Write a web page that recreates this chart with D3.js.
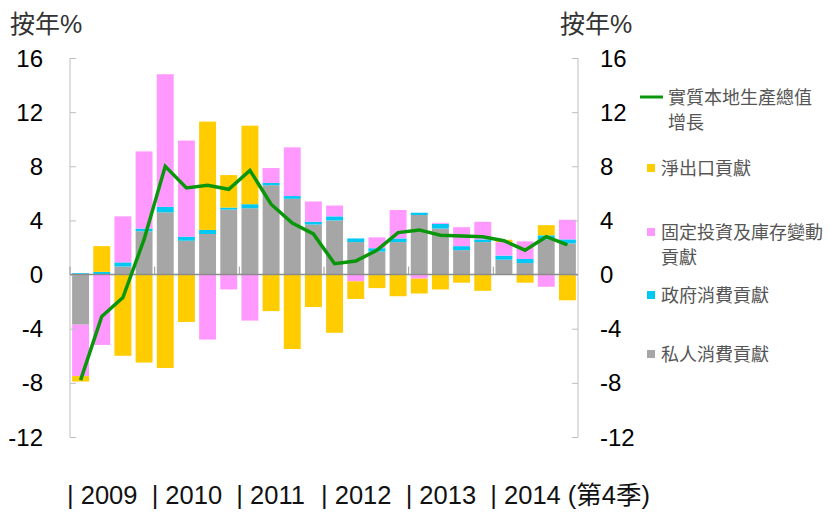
<!DOCTYPE html>
<html>
<head lang="zh-Hant">
    <meta charset="UTF-8">
    <title>GDP contributions</title>
    <script src="https://d3js.org/d3.v7.min.js" charset="utf-8"></script>
    <style>
        body { margin: 0; background: #fff; }
        svg text { font-family: "Liberation Sans", Arial, "Noto Sans CJK TC", sans-serif; }
        .cjk { font-family: "Noto Sans CJK TC", sans-serif; }
    </style>
</head>
<body>
<div id="chart"></div>
<script>
    // quarters 2009 Q1 .. 2014 Q4
    var quarters = ["2009Q1","2009Q2","2009Q3","2009Q4","2010Q1","2010Q2","2010Q3","2010Q4",
                    "2011Q1","2011Q2","2011Q3","2011Q4","2012Q1","2012Q2","2012Q3","2012Q4",
                    "2013Q1","2013Q2","2013Q3","2013Q4","2014Q1","2014Q2","2014Q3","2014Q4"];
    var privateCons = [-3.7, 0.0, 0.6, 3.2, 4.6, 2.5, 3.0, 4.8, 4.9, 6.6, 5.6, 3.7, 4.0, 2.4, 1.7, 2.4, 4.4, 3.4, 1.8, 2.4, 1.1, 0.85, 2.6, 2.3];
    var govCons     = [0.1, 0.2, 0.3, 0.2, 0.4, 0.3, 0.3, 0.15, 0.3, 0.17, 0.2, 0.2, 0.3, 0.27, 0.25, 0.27, 0.17, 0.35, 0.3, 0.2, 0.3, 0.3, 0.3, 0.3];
    var investment  = [-3.8, -5.2, 3.4, 5.7, 9.8, 7.1, -4.8, -1.1, -3.4, 1.1, 3.6, 1.5, 0.8, -0.5, 0.8, 2.1, -0.3, 0.07, 1.4, 1.3, 1.0, 1.3, -0.9, 1.45];
    var netExports  = [-0.4, 1.9, -6.0, -6.5, -6.9, -3.5, 8.0, 2.4, 5.8, -2.7, -5.5, -2.4, -4.3, -1.3, -1.0, -1.6, -1.1, -1.1, -0.6, -1.2, 0.17, -0.6, 0.75, -1.9];
    var gdpGrowth   = [-7.8, -3.1, -1.7, 2.6, 8.0, 6.4, 6.6, 6.3, 7.7, 5.2, 3.8, 3.0, 0.8, 1.0, 1.8, 3.1, 3.3, 2.9, 2.85, 2.8, 2.5, 1.8, 2.8, 2.2];
    var yTicks = [-12, -8, -4, 0, 4, 8, 12, 16];
    var yearLabels = ["| 2009", "| 2010", "| 2011", "| 2012", "| 2013", "| 2014 (第4季)"];

    var seriesKeys = ["private", "gov", "invest", "net"];
    var seriesColors = { "private": "#a6a6a6", "gov": "#00c8f5", "invest": "#ff99ff", "net": "#ffcc00" };
    var legendItems = [
        { key: "gdp", lines: ["實質本地生產總值", "增長"], y: 97 },
        { key: "net", lines: ["淨出口貢獻"], y: 168 },
        { key: "invest", lines: ["固定投資及庫存變動", "貢獻"], y: 232 },
        { key: "gov", lines: ["政府消費貢獻"], y: 295 },
        { key: "private", lines: ["私人消費貢獻"], y: 354 }
    ];

    var W = 829, H = 517;
    var plotL = 70, plotR = 578, plotT = 58, plotB = 437;

    var rows = quarters.map(function(q, i) {
        return { q: q, "private": privateCons[i], gov: govCons[i], invest: investment[i], net: netExports[i] };
    });

    var x = d3.scaleBand().domain(quarters).range([plotL, plotR]).paddingInner(0.2).paddingOuter(0.1);
    var y = d3.scaleLinear().domain([-12, 16]).range([plotB, plotT]);
    var edge = function(i) { return x(quarters[i]) - (x.step() - x.bandwidth()) / 2; };

    var svg = d3.select("#chart").append("svg").attr("width", W).attr("height", H);

    var stacked = d3.stack().keys(seriesKeys).offset(d3.stackOffsetDiverging)(rows);

    svg.append("g").selectAll("g").data(stacked).enter().append("g")
            .attr("fill", function(s) { return seriesColors[s.key]; })
            .selectAll("rect").data(function(s) { return s; }).enter().append("rect")
            .attr("x", function(d) { return x(d.data.q); })
            .attr("width", x.bandwidth())
            .attr("y", function(d) { return y(Math.max(d[0], d[1])); })
            .attr("height", function(d) { return Math.abs(y(d[0]) - y(d[1])); });

    // axes (left and right), ticks point inward
    var axL = d3.axisLeft(y).tickValues(yTicks).tickSize(-6).tickFormat("");
    var axR = d3.axisRight(y).tickValues(yTicks).tickSize(-6).tickFormat("");
    svg.append("g").attr("transform", "translate(" + plotL + ",0)").call(axL);
    svg.append("g").attr("transform", "translate(" + plotR + ",0)").call(axR);
    svg.selectAll(".domain, .tick line").attr("stroke", "#bfbfbf");
    svg.selectAll(".domain").attr("d", "M0," + y(16) + "V" + y(-12));

    svg.append("g").selectAll("text").data(yTicks).enter().append("text")
            .attr("x", 43).attr("y", function(d) { return y(d) + 8.5; })
            .attr("text-anchor", "end").attr("font-size", 24).attr("fill", "#000")
            .text(function(d) { return d; });
    svg.append("g").selectAll("text").data(yTicks).enter().append("text")
            .attr("x", 600).attr("y", function(d) { return y(d) + 8.5; })
            .attr("font-size", 24).attr("fill", "#000")
            .text(function(d) { return d; });

    // zero line + year ticks
    svg.append("line").attr("x1", plotL).attr("x2", plotR).attr("y1", y(0)).attr("y2", y(0))
            .attr("stroke", "#8c8c8c").attr("stroke-width", 1.5);
    var yearIdx = [0, 4, 8, 12, 16, 20];
    svg.append("g").selectAll("line").data(yearIdx).enter().append("line")
            .attr("x1", function(i) { return edge(i); }).attr("x2", function(i) { return edge(i); })
            .attr("y1", y(0)).attr("y2", y(0) - 8)
            .attr("stroke", "#9a9a9a").attr("stroke-width", 1);

    // GDP growth line
    var line = d3.line()
            .x(function(d, i) { return x(quarters[i]) + x.bandwidth() / 2; })
            .y(function(d) { return y(d); });
    svg.append("path").datum(gdpGrowth).attr("d", line)
            .attr("fill", "none").attr("stroke", "#0a960a").attr("stroke-width", 3.5)
            .attr("stroke-linejoin", "miter");

    // unit labels
    svg.append("text").attr("x", 10).attr("y", 33).attr("font-size", 25).attr("fill", "#333")
            .text("按年%");
    svg.append("text").attr("x", 560).attr("y", 33).attr("font-size", 25).attr("fill", "#333")
            .text("按年%");

    // year labels
    svg.append("g").selectAll("text").data(yearLabels).enter().append("text")
            .attr("x", function(d, i) { return edge(yearIdx[i]) - 3; })
            .attr("y", 504).attr("font-size", 25.5).attr("fill", "#111")
            .text(function(d) { return d; });

    // legend
    var lg = svg.append("g").selectAll("g").data(legendItems).enter().append("g");
    lg.each(function(d) {
        var g = d3.select(this);
        if (d.key === "gdp") {
            g.append("line").attr("x1", 640).attr("x2", 663).attr("y1", d.y).attr("y2", d.y)
                    .attr("stroke", "#0a960a").attr("stroke-width", 3);
        } else {
            g.append("rect").attr("x", 647).attr("y", d.y - 4).attr("width", 8).attr("height", 8)
                    .attr("fill", seriesColors[d.key]);
        }
        d.lines.forEach(function(t, k) {
            g.append("text").attr("class", "cjk")
                    .attr("x", d.key === "gdp" ? 668 : 661)
                    .attr("y", d.y + 6.5 + k * 25)
                    .attr("font-size", 18).attr("fill", "#555")
                    .text(t);
        });
    });
</script>
</body>
</html>
